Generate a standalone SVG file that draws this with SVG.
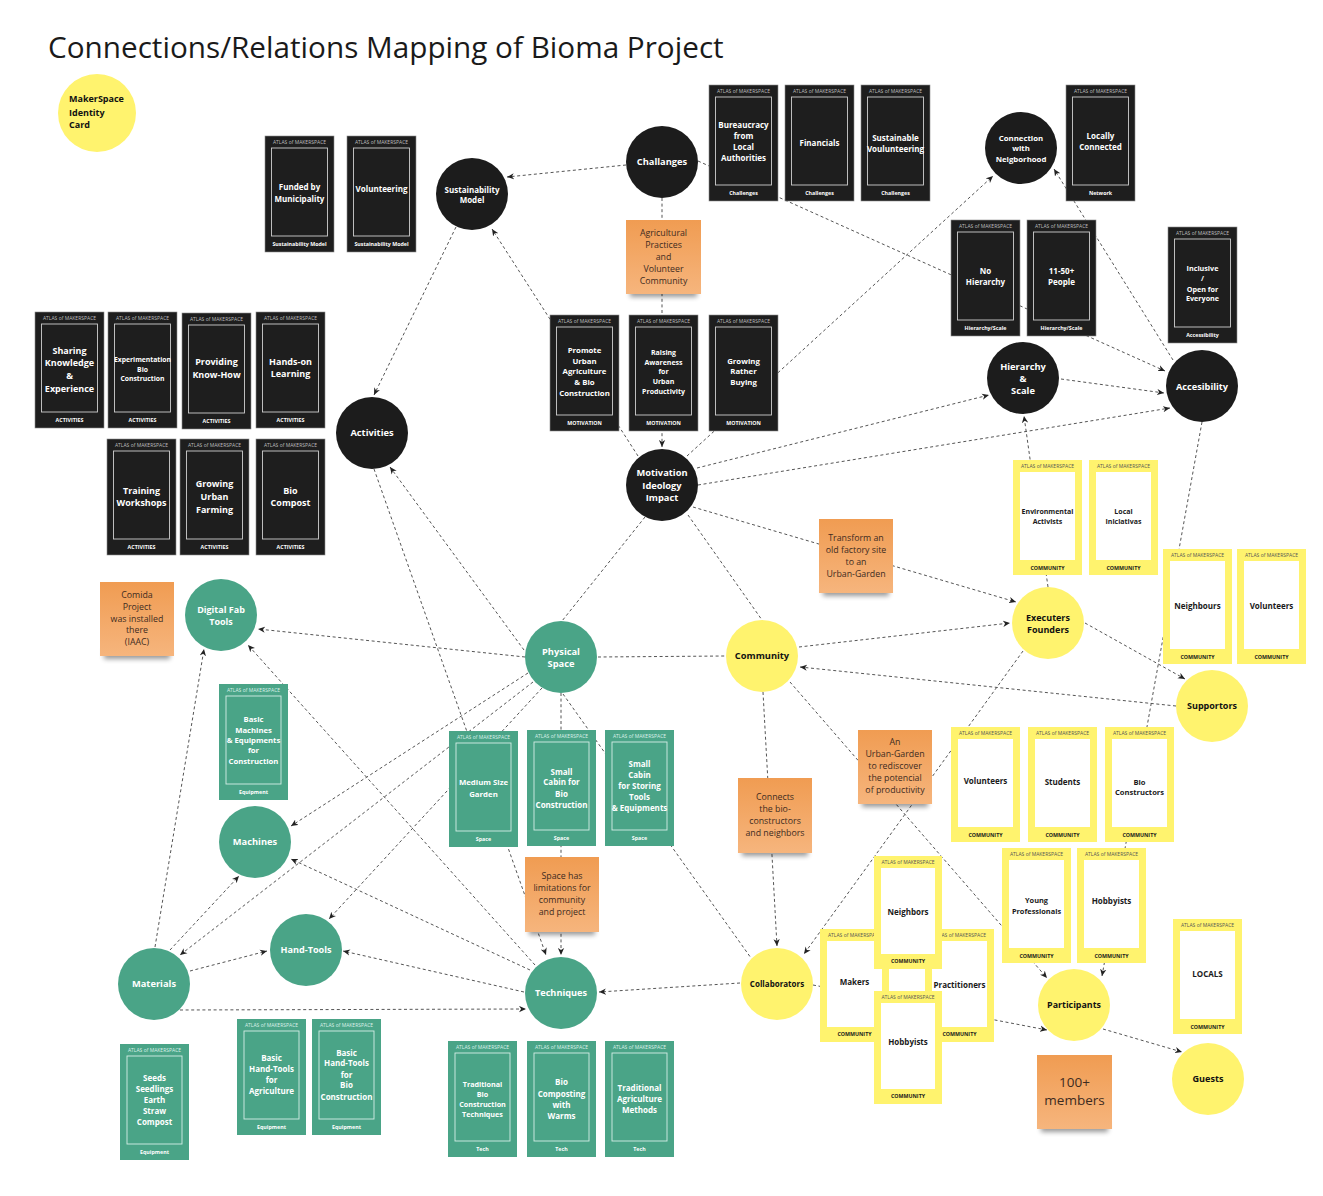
<svg xmlns="http://www.w3.org/2000/svg" width="1323" height="1196" viewBox="0 0 1323 1196">
<defs>
<style>
text{font-family:"Open Sans","Liberation Sans",sans-serif}
.cb .o{fill:#1e1e1e;stroke:#8c8c8c;stroke-width:.6}
.cb .i{fill:none;stroke:#cfcfcf;stroke-width:.9}
.cb text{fill:#fff}
.cb .hd{fill:#bdbdbd}
.cg .o{fill:#4aa487}
.cg .i{fill:none;stroke:#d6eee6;stroke-width:.9}
.cg text{fill:#fff}
.cg .hd{fill:#dcf1e9}
.cy .o{fill:#fff36e}
.cy .i{fill:#fff}
.cy text{fill:#1a1a1a}
.cy .hd{fill:#555}
.t{font-weight:700;text-anchor:middle}
.hd{font-size:5px;text-anchor:middle}
.ft{font-size:5.3px;font-weight:700;text-anchor:middle}
.nb{fill:#1c1c1c}
.ng{fill:#4aa487}
.ny{fill:#fff36e}
.lw{fill:#fff;font-weight:700;text-anchor:middle}
.lk{fill:#111;font-weight:700;text-anchor:middle}
.st{fill:url(#og)}
.sh{fill:#000;opacity:.4;filter:url(#bl)}
.nt{font-size:8.8px;fill:#3d2b1f;text-anchor:middle}
.nt.big{font-size:13.5px}
.cn line{stroke:#555;stroke-width:1;stroke-dasharray:3 2.6;fill:none}
.cn .a{marker-end:url(#arr)}
</style>
<linearGradient id="og" x1="0" y1="0" x2="0" y2="1">
<stop offset="0" stop-color="#f09c52"/>
<stop offset="1" stop-color="#f6b57d"/>
</linearGradient>
<filter id="bl" x="-20%" y="-100%" width="140%" height="300%"><feGaussianBlur stdDeviation="2.5"/></filter>
<marker id="arr" viewBox="0 0 10 10" refX="10" refY="5" markerWidth="7" markerHeight="7" orient="auto" markerUnits="userSpaceOnUse">
<path d="M0,0.5 L10,5 L0,9.5 L3,5 z" fill="#222"/>
</marker>
</defs>
<rect width="1323" height="1196" fill="#fff"/>
<text x="48" y="58" font-size="29.7" fill="#1a1a1a">Connections/Relations Mapping of Bioma Project</text>

<g id="connectors" class="cn">
<line class="a" x1="626" y1="165" x2="507" y2="177"/>
<line class="a" x1="698" y1="161" x2="1165" y2="371"/>
<line class="a" x1="662" y1="198" x2="662" y2="447"/>
<line class="a" x1="638" y1="456" x2="492" y2="229"/>
<line class="a" x1="456" y1="227" x2="374" y2="395"/>
<line class="a" x1="687" y1="456" x2="993" y2="176"/>
<line class="a" x1="1173" y1="360" x2="1054" y2="169"/>
<line class="a" x1="697" y1="468" x2="989" y2="395"/>
<line class="a" x1="698" y1="485" x2="1170" y2="408"/>
<line class="a" x1="1061" y1="379" x2="1164" y2="393"/>
<line class="a" x1="1048" y1="587" x2="1024" y2="416"/>
<line class="a" x1="1202" y1="422" x2="1102" y2="976"/>
<line class="a" x1="693" y1="507" x2="1016" y2="602"/>
<line x1="645" y1="517" x2="562" y2="621"/>
<line x1="688" y1="515" x2="762" y2="620"/>
<line x1="598" y1="657" x2="725" y2="656"/>
<line class="a" x1="799" y1="647" x2="1010" y2="623"/>
<line class="a" x1="1176" y1="706" x2="800" y2="667"/>
<line class="a" x1="1085" y1="623" x2="1185" y2="679"/>
<line class="a" x1="1023" y1="651" x2="804" y2="954"/>
<line class="a" x1="790" y1="682" x2="1047" y2="978"/>
<line class="a" x1="763" y1="692" x2="777" y2="946"/>
<line class="a" x1="740" y1="983" x2="599" y2="992"/>
<line class="a" x1="813" y1="985" x2="1047" y2="1030"/>
<line class="a" x1="1103" y1="1029" x2="1182" y2="1052"/>
<line x1="563" y1="694" x2="751" y2="958"/>
<line class="a" x1="561" y1="693" x2="561" y2="955"/>
<line class="a" x1="374" y1="469" x2="546" y2="955"/>
<line class="a" x1="524" y1="650" x2="390" y2="467"/>
<line class="a" x1="525" y1="657" x2="258" y2="629"/>
<line class="a" x1="535" y1="965" x2="248" y2="645"/>
<line class="a" x1="155" y1="947" x2="204" y2="649"/>
<line class="a" x1="170" y1="950" x2="239" y2="876"/>
<line class="a" x1="533" y1="682" x2="180" y2="955"/>
<line class="a" x1="528" y1="673" x2="291" y2="826"/>
<line class="a" x1="542" y1="688" x2="329" y2="919"/>
<line class="a" x1="530" y1="970" x2="291" y2="859"/>
<line class="a" x1="524" y1="992" x2="343" y2="951"/>
<line class="a" x1="190" y1="971" x2="267" y2="951"/>
<line class="a" x1="180" y1="1010" x2="526" y2="1009"/>
</g>

<!-- circles -->
<g id="n-identity"><circle class="ny" cx="97" cy="113" r="39"/><text font-size="9" font-weight="700" fill="#111"><tspan x="69" y="102">MakerSpace</tspan><tspan x="69" y="116">Identity</tspan><tspan x="69" y="128">Card</tspan></text></g>
<g id="n-sustainability"><circle class="nb" cx="472" cy="194" r="36"/><text class="lw" font-size="8"><tspan x="472" y="192.8">Sustainability</tspan><tspan x="472" y="202.8">Model</tspan></text></g>
<g id="n-challanges"><circle class="nb" cx="662" cy="162" r="36"/><text class="lw" font-size="9.3" x="662" y="165.3">Challanges</text></g>
<g id="n-connection"><circle class="nb" cx="1021" cy="148" r="36"/><text class="lw" font-size="7.8"><tspan x="1021" y="140.7">Connection</tspan><tspan x="1021" y="150.7">with</tspan><tspan x="1021" y="161.7">Neigborhood</tspan></text></g>
<g id="n-hierarchy"><circle class="nb" cx="1023" cy="378" r="36"/><text class="lw" font-size="9.3"><tspan x="1023" y="370.3">Hierarchy</tspan><tspan x="1023" y="382.3">&amp;</tspan><tspan x="1023" y="394.3">Scale</tspan></text></g>
<g id="n-accesibility"><circle class="nb" cx="1202" cy="386" r="36"/><text class="lw" font-size="9.2" x="1202" y="390.2">Accesibility</text></g>
<g id="n-activities"><circle class="nb" cx="372" cy="433" r="36"/><text class="lw" font-size="9.3" x="372" y="436.3">Activities</text></g>
<g id="n-motivation"><circle class="nb" cx="662" cy="485" r="36"/><text class="lw" font-size="9.3"><tspan x="662" y="476.3">Motivation</tspan><tspan x="662" y="489.3">Ideology</tspan><tspan x="662" y="501.3">Impact</tspan></text></g>
<g id="n-digitalfab"><circle class="ng" cx="221" cy="615" r="36"/><text class="lw" font-size="9"><tspan x="221" y="613.2">Digital Fab</tspan><tspan x="221" y="625.2">Tools</tspan></text></g>
<g id="n-physical"><circle class="ng" cx="561" cy="657" r="36"/><text class="lw" font-size="9.3"><tspan x="561" y="655.3">Physical</tspan><tspan x="561" y="667.3">Space</tspan></text></g>
<g id="n-machines"><circle class="ng" cx="255" cy="842" r="36"/><text class="lw" font-size="9.3" x="255" y="845.3">Machines</text></g>
<g id="n-handtools"><circle class="ng" cx="306" cy="950" r="36"/><text class="lw" font-size="9.1" x="306" y="953.2">Hand-Tools</text></g>
<g id="n-materials"><circle class="ng" cx="154" cy="984" r="36"/><text class="lw" font-size="9.3" x="154" y="987.3">Materials</text></g>
<g id="n-techniques"><circle class="ng" cx="561" cy="993" r="36"/><text class="lw" font-size="9.2" x="561" y="996.2">Techniques</text></g>
<g id="n-community"><circle class="ny" cx="762" cy="656" r="36"/><text class="lk" font-size="9.3" x="762" y="659.3">Community</text></g>
<g id="n-executers"><circle class="ny" cx="1048" cy="623" r="36"/><text class="lk" font-size="9"><tspan x="1048" y="621.2">Executers</tspan><tspan x="1048" y="633.2">Founders</tspan></text></g>
<g id="n-supportors"><circle class="ny" cx="1212" cy="706" r="36"/><text class="lk" font-size="9" x="1212" y="709.2">Supportors</text></g>
<g id="n-collaborators"><circle class="ny" cx="777" cy="984" r="36"/><text class="lk" font-size="8" x="777" y="986.8">Collaborators</text></g>
<g id="n-participants"><circle class="ny" cx="1074" cy="1005" r="36"/><text class="lk" font-size="8.9" x="1074" y="1008.1">Participants</text></g>
<g id="n-guests"><circle class="ny" cx="1208" cy="1079" r="36"/><text class="lk" font-size="9.1" x="1208" y="1082.2">Guests</text></g>

<!-- black cards -->
<g id="card-funded" class="cb" transform="translate(265,136)"><rect class="o" width="69" height="116"/><rect class="i" x="6.5" y="12" width="56" height="88"/><text class="hd" x="34.5" y="8">ATLAS of MAKERSPACE</text><text class="t" font-size="8"><tspan x="34.5" y="53.8">Funded by</tspan><tspan x="34.5" y="65.8">Municipality</tspan></text><text class="ft" x="34.5" y="110">Sustainability Model</text></g>
<g id="card-volunteering" class="cb" transform="translate(347,136)"><rect class="o" width="69" height="116"/><rect class="i" x="6.5" y="12" width="56" height="88"/><text class="hd" x="34.5" y="8">ATLAS of MAKERSPACE</text><text class="t" font-size="8" x="34.5" y="55.8">Volunteering</text><text class="ft" x="34.5" y="110">Sustainability Model</text></g>
<g id="card-bureaucracy" class="cb" transform="translate(709,85)"><rect class="o" width="69" height="116"/><rect class="i" x="6.5" y="12" width="56" height="88"/><text class="hd" x="34.5" y="8">ATLAS of MAKERSPACE</text><text class="t" font-size="8"><tspan x="34.5" y="42.8">Bureaucracy</tspan><tspan x="34.5" y="53.8">from</tspan><tspan x="34.5" y="64.8">Local</tspan><tspan x="34.5" y="75.8">Authorities</tspan></text><text class="ft" x="34.5" y="110">Challenges</text></g>
<g id="card-financials" class="cb" transform="translate(785,85)"><rect class="o" width="69" height="116"/><rect class="i" x="6.5" y="12" width="56" height="88"/><text class="hd" x="34.5" y="8">ATLAS of MAKERSPACE</text><text class="t" font-size="8" x="34.5" y="60.8">Financials</text><text class="ft" x="34.5" y="110">Challenges</text></g>
<g id="card-sustvol" class="cb" transform="translate(861,85)"><rect class="o" width="69" height="116"/><rect class="i" x="6.5" y="12" width="56" height="88"/><text class="hd" x="34.5" y="8">ATLAS of MAKERSPACE</text><text class="t" font-size="8"><tspan x="34.5" y="55.8">Sustainable</tspan><tspan x="34.5" y="66.8">Voulunteering</tspan></text><text class="ft" x="34.5" y="110">Challenges</text></g>
<g id="card-locally" class="cb" transform="translate(1066,85)"><rect class="o" width="69" height="116"/><rect class="i" x="6.5" y="12" width="56" height="88"/><text class="hd" x="34.5" y="8">ATLAS of MAKERSPACE</text><text class="t" font-size="8"><tspan x="34.5" y="53.8">Locally</tspan><tspan x="34.5" y="64.8">Connected</tspan></text><text class="ft" x="34.5" y="110">Network</text></g>
<g id="card-nohierarchy" class="cb" transform="translate(951,220)"><rect class="o" width="69" height="116"/><rect class="i" x="6.5" y="12" width="56" height="88"/><text class="hd" x="34.5" y="8">ATLAS of MAKERSPACE</text><text class="t" font-size="8"><tspan x="34.5" y="53.8">No</tspan><tspan x="34.5" y="64.8">Hierarchy</tspan></text><text class="ft" x="34.5" y="110">Hierarchy/Scale</text></g>
<g id="card-people" class="cb" transform="translate(1027,220)"><rect class="o" width="69" height="116"/><rect class="i" x="6.5" y="12" width="56" height="88"/><text class="hd" x="34.5" y="8">ATLAS of MAKERSPACE</text><text class="t" font-size="8"><tspan x="34.5" y="53.8">11-50+</tspan><tspan x="34.5" y="64.8">People</tspan></text><text class="ft" x="34.5" y="110">Hierarchy/Scale</text></g>
<g id="card-inclusive" class="cb" transform="translate(1168,227)"><rect class="o" width="69" height="116"/><rect class="i" x="6.5" y="12" width="56" height="88"/><text class="hd" x="34.5" y="8">ATLAS of MAKERSPACE</text><text class="t" font-size="7.2"><tspan x="34.5" y="43.5">Inclusive</tspan><tspan x="34.5" y="53.5">/</tspan><tspan x="34.5" y="64.5">Open for</tspan><tspan x="34.5" y="73.5">Everyone</tspan></text><text class="ft" x="34.5" y="110">Accessibility</text></g>
<g id="card-promote" class="cb" transform="translate(550,315)"><rect class="o" width="69" height="116"/><rect class="i" x="6.5" y="12" width="56" height="88"/><text class="hd" x="34.5" y="8">ATLAS of MAKERSPACE</text><text class="t" font-size="7.8"><tspan x="34.5" y="37.7">Promote</tspan><tspan x="34.5" y="48.7">Urban</tspan><tspan x="34.5" y="58.7">Agriculture</tspan><tspan x="34.5" y="69.7">&amp; Bio</tspan><tspan x="34.5" y="80.7">Construction</tspan></text><text class="ft" x="34.5" y="110">MOTIVATION</text></g>
<g id="card-raising" class="cb" transform="translate(629,315)"><rect class="o" width="69" height="116"/><rect class="i" x="6.5" y="12" width="56" height="88"/><text class="hd" x="34.5" y="8">ATLAS of MAKERSPACE</text><text class="t" font-size="7"><tspan x="34.5" y="39.5">Raising</tspan><tspan x="34.5" y="49.5">Awareness</tspan><tspan x="34.5" y="58.5">for</tspan><tspan x="34.5" y="68.5">Urban</tspan><tspan x="34.5" y="78.5">Productivity</tspan></text><text class="ft" x="34.5" y="110">MOTIVATION</text></g>
<g id="card-growingrb" class="cb" transform="translate(709,315)"><rect class="o" width="69" height="116"/><rect class="i" x="6.5" y="12" width="56" height="88"/><text class="hd" x="34.5" y="8">ATLAS of MAKERSPACE</text><text class="t" font-size="7.8"><tspan x="34.5" y="48.7">Growing</tspan><tspan x="34.5" y="58.7">Rather</tspan><tspan x="34.5" y="69.7">Buying</tspan></text><text class="ft" x="34.5" y="110">MOTIVATION</text></g>
<g id="card-sharing" class="cb" transform="translate(35,312)"><rect class="o" width="69" height="116"/><rect class="i" x="6.5" y="12" width="56" height="88"/><text class="hd" x="34.5" y="8">ATLAS of MAKERSPACE</text><text class="t" font-size="9"><tspan x="34.5" y="42.2">Sharing</tspan><tspan x="34.5" y="54.2">Knowledge</tspan><tspan x="34.5" y="67.2">&amp;</tspan><tspan x="34.5" y="80.2">Experience</tspan></text><text class="ft" x="34.5" y="110">ACTIVITIES</text></g>
<g id="card-experimentation" class="cb" transform="translate(108,312)"><rect class="o" width="69" height="116"/><rect class="i" x="6.5" y="12" width="56" height="88"/><text class="hd" x="34.5" y="8">ATLAS of MAKERSPACE</text><text class="t" font-size="6.8"><tspan x="34.5" y="50.4">Experimentation</tspan><tspan x="34.5" y="60.4">Bio</tspan><tspan x="34.5" y="69.4">Construction</tspan></text><text class="ft" x="34.5" y="110">ACTIVITIES</text></g>
<g id="card-providing" class="cb" transform="translate(182,313)"><rect class="o" width="69" height="116"/><rect class="i" x="6.5" y="12" width="56" height="88"/><text class="hd" x="34.5" y="8">ATLAS of MAKERSPACE</text><text class="t" font-size="9"><tspan x="34.5" y="52.2">Providing</tspan><tspan x="34.5" y="65.2">Know-How</tspan></text><text class="ft" x="34.5" y="110">ACTIVITIES</text></g>
<g id="card-handson" class="cb" transform="translate(256,312)"><rect class="o" width="69" height="116"/><rect class="i" x="6.5" y="12" width="56" height="88"/><text class="hd" x="34.5" y="8">ATLAS of MAKERSPACE</text><text class="t" font-size="9"><tspan x="34.5" y="53.2">Hands-on</tspan><tspan x="34.5" y="65.2">Learning</tspan></text><text class="ft" x="34.5" y="110">ACTIVITIES</text></g>
<g id="card-training" class="cb" transform="translate(107,439)"><rect class="o" width="69" height="116"/><rect class="i" x="6.5" y="12" width="56" height="88"/><text class="hd" x="34.5" y="8">ATLAS of MAKERSPACE</text><text class="t" font-size="9"><tspan x="34.5" y="55.2">Training</tspan><tspan x="34.5" y="67.2">Workshops</tspan></text><text class="ft" x="34.5" y="110">ACTIVITIES</text></g>
<g id="card-growinguf" class="cb" transform="translate(180,439)"><rect class="o" width="69" height="116"/><rect class="i" x="6.5" y="12" width="56" height="88"/><text class="hd" x="34.5" y="8">ATLAS of MAKERSPACE</text><text class="t" font-size="9"><tspan x="34.5" y="48.2">Growing</tspan><tspan x="34.5" y="61.2">Urban</tspan><tspan x="34.5" y="74.2">Farming</tspan></text><text class="ft" x="34.5" y="110">ACTIVITIES</text></g>
<g id="card-biocompost" class="cb" transform="translate(256,439)"><rect class="o" width="69" height="116"/><rect class="i" x="6.5" y="12" width="56" height="88"/><text class="hd" x="34.5" y="8">ATLAS of MAKERSPACE</text><text class="t" font-size="9"><tspan x="34.5" y="55.2">Bio</tspan><tspan x="34.5" y="67.2">Compost</tspan></text><text class="ft" x="34.5" y="110">ACTIVITIES</text></g>

<!-- green cards -->
<g id="card-basicmachines" class="cg" transform="translate(219,684)"><rect class="o" width="69" height="116"/><rect class="i" x="7" y="12" width="55" height="88"/><text class="hd" x="34.5" y="8">ATLAS of MAKERSPACE</text><text class="t" font-size="7.7"><tspan x="34.5" y="37.7">Basic</tspan><tspan x="34.5" y="48.7">Machines</tspan><tspan x="34.5" y="58.7">&amp; Equipments</tspan><tspan x="34.5" y="68.7">for</tspan><tspan x="34.5" y="79.7">Construction</tspan></text><text class="ft" x="34.5" y="110">Equipment</text></g>
<g id="card-mediumgarden" class="cg" transform="translate(449,731)"><rect class="o" width="69" height="116"/><rect class="i" x="7" y="12" width="55" height="88"/><text class="hd" x="34.5" y="8">ATLAS of MAKERSPACE</text><text class="t" font-size="7.8"><tspan x="34.5" y="53.7">Medium Size</tspan><tspan x="34.5" y="65.7">Garden</tspan></text><text class="ft" x="34.5" y="110">Space</text></g>
<g id="card-cabinbio" class="cg" transform="translate(527,730)"><rect class="o" width="69" height="116"/><rect class="i" x="7" y="12" width="55" height="88"/><text class="hd" x="34.5" y="8">ATLAS of MAKERSPACE</text><text class="t" font-size="8"><tspan x="34.5" y="44.8">Small</tspan><tspan x="34.5" y="54.8">Cabin for</tspan><tspan x="34.5" y="66.8">Bio</tspan><tspan x="34.5" y="77.8">Construction</tspan></text><text class="ft" x="34.5" y="110">Space</text></g>
<g id="card-cabinstore" class="cg" transform="translate(605,730)"><rect class="o" width="69" height="116"/><rect class="i" x="7" y="12" width="55" height="88"/><text class="hd" x="34.5" y="8">ATLAS of MAKERSPACE</text><text class="t" font-size="8"><tspan x="34.5" y="36.8">Small</tspan><tspan x="34.5" y="47.8">Cabin</tspan><tspan x="34.5" y="58.8">for Storing</tspan><tspan x="34.5" y="69.8">Tools</tspan><tspan x="34.5" y="80.8">&amp; Equipments</tspan></text><text class="ft" x="34.5" y="110">Space</text></g>
<g id="card-seeds" class="cg" transform="translate(120,1044)"><rect class="o" width="69" height="116"/><rect class="i" x="7" y="12" width="55" height="88"/><text class="hd" x="34.5" y="8">ATLAS of MAKERSPACE</text><text class="t" font-size="8"><tspan x="34.5" y="36.8">Seeds</tspan><tspan x="34.5" y="47.8">Seedlings</tspan><tspan x="34.5" y="58.8">Earth</tspan><tspan x="34.5" y="69.8">Straw</tspan><tspan x="34.5" y="80.8">Compost</tspan></text><text class="ft" x="34.5" y="110">Equipment</text></g>
<g id="card-bhtagri" class="cg" transform="translate(237,1019)"><rect class="o" width="69" height="116"/><rect class="i" x="7" y="12" width="55" height="88"/><text class="hd" x="34.5" y="8">ATLAS of MAKERSPACE</text><text class="t" font-size="8"><tspan x="34.5" y="41.8">Basic</tspan><tspan x="34.5" y="52.8">Hand-Tools</tspan><tspan x="34.5" y="63.8">for</tspan><tspan x="34.5" y="74.8">Agriculture</tspan></text><text class="ft" x="34.5" y="110">Equipment</text></g>
<g id="card-bhtbio" class="cg" transform="translate(312,1019)"><rect class="o" width="69" height="116"/><rect class="i" x="7" y="12" width="55" height="88"/><text class="hd" x="34.5" y="8">ATLAS of MAKERSPACE</text><text class="t" font-size="8"><tspan x="34.5" y="36.8">Basic</tspan><tspan x="34.5" y="46.8">Hand-Tools</tspan><tspan x="34.5" y="58.8">for</tspan><tspan x="34.5" y="68.8">Bio</tspan><tspan x="34.5" y="80.8">Construction</tspan></text><text class="ft" x="34.5" y="110">Equipment</text></g>
<g id="card-tradbio" class="cg" transform="translate(448,1041)"><rect class="o" width="69" height="116"/><rect class="i" x="7" y="12" width="55" height="88"/><text class="hd" x="34.5" y="8">ATLAS of MAKERSPACE</text><text class="t" font-size="7.2"><tspan x="34.5" y="45.5">Traditional</tspan><tspan x="34.5" y="55.5">Bio</tspan><tspan x="34.5" y="65.5">Construction</tspan><tspan x="34.5" y="75.5">Techniques</tspan></text><text class="ft" x="34.5" y="110">Tech</text></g>
<g id="card-biocomposting" class="cg" transform="translate(527,1041)"><rect class="o" width="69" height="116"/><rect class="i" x="7" y="12" width="55" height="88"/><text class="hd" x="34.5" y="8">ATLAS of MAKERSPACE</text><text class="t" font-size="8"><tspan x="34.5" y="43.8">Bio</tspan><tspan x="34.5" y="55.8">Composting</tspan><tspan x="34.5" y="66.8">with</tspan><tspan x="34.5" y="77.8">Warms</tspan></text><text class="ft" x="34.5" y="110">Tech</text></g>
<g id="card-tradagri" class="cg" transform="translate(605,1041)"><rect class="o" width="69" height="116"/><rect class="i" x="7" y="12" width="55" height="88"/><text class="hd" x="34.5" y="8">ATLAS of MAKERSPACE</text><text class="t" font-size="8"><tspan x="34.5" y="49.8">Traditional</tspan><tspan x="34.5" y="60.8">Agriculture</tspan><tspan x="34.5" y="71.8">Methods</tspan></text><text class="ft" x="34.5" y="110">Tech</text></g>

<!-- yellow cards -->
<g id="card-envact" class="cy" transform="translate(1013,460)"><rect class="o" width="69" height="115"/><rect class="i" x="7" y="12" width="55" height="88"/><text class="hd" x="34.5" y="8">ATLAS of MAKERSPACE</text><text class="t" font-size="7"><tspan x="34.5" y="53.5">Environmental</tspan><tspan x="34.5" y="63.5">Activists</tspan></text><text class="ft" x="34.5" y="109.5">COMMUNITY</text></g>
<g id="card-localinic" class="cy" transform="translate(1089,460)"><rect class="o" width="69" height="115"/><rect class="i" x="7" y="12" width="55" height="88"/><text class="hd" x="34.5" y="8">ATLAS of MAKERSPACE</text><text class="t" font-size="7"><tspan x="34.5" y="53.5">Local</tspan><tspan x="34.5" y="63.5">Iniciativas</tspan></text><text class="ft" x="34.5" y="109.5">COMMUNITY</text></g>
<g id="card-neighbours" class="cy" transform="translate(1163,549)"><rect class="o" width="69" height="115"/><rect class="i" x="7" y="12" width="55" height="88"/><text class="hd" x="34.5" y="8">ATLAS of MAKERSPACE</text><text class="t" font-size="8" x="34.5" y="59.8">Neighbours</text><text class="ft" x="34.5" y="109.5">COMMUNITY</text></g>
<g id="card-volunteers-r" class="cy" transform="translate(1237,549)"><rect class="o" width="69" height="115"/><rect class="i" x="7" y="12" width="55" height="88"/><text class="hd" x="34.5" y="8">ATLAS of MAKERSPACE</text><text class="t" font-size="8" x="34.5" y="59.8">Volunteers</text><text class="ft" x="34.5" y="109.5">COMMUNITY</text></g>
<g id="card-volunteers-m" class="cy" transform="translate(951,727)"><rect class="o" width="69" height="115"/><rect class="i" x="7" y="12" width="55" height="88"/><text class="hd" x="34.5" y="8">ATLAS of MAKERSPACE</text><text class="t" font-size="8" x="34.5" y="56.8">Volunteers</text><text class="ft" x="34.5" y="109.5">COMMUNITY</text></g>
<g id="card-students" class="cy" transform="translate(1028,727)"><rect class="o" width="69" height="115"/><rect class="i" x="7" y="12" width="55" height="88"/><text class="hd" x="34.5" y="8">ATLAS of MAKERSPACE</text><text class="t" font-size="8" x="34.5" y="57.8">Students</text><text class="ft" x="34.5" y="109.5">COMMUNITY</text></g>
<g id="card-bioconst" class="cy" transform="translate(1105,727)"><rect class="o" width="69" height="115"/><rect class="i" x="7" y="12" width="55" height="88"/><text class="hd" x="34.5" y="8">ATLAS of MAKERSPACE</text><text class="t" font-size="7.6"><tspan x="34.5" y="57.7">Bio</tspan><tspan x="34.5" y="67.7">Constructors</tspan></text><text class="ft" x="34.5" y="109.5">COMMUNITY</text></g>
<g id="card-youngprof" class="cy" transform="translate(1002,848)"><rect class="o" width="69" height="115"/><rect class="i" x="7" y="12" width="55" height="88"/><text class="hd" x="34.5" y="8">ATLAS of MAKERSPACE</text><text class="t" font-size="7.4"><tspan x="34.5" y="54.6">Young</tspan><tspan x="34.5" y="65.6">Professionals</tspan></text><text class="ft" x="34.5" y="109.5">COMMUNITY</text></g>
<g id="card-hobbyists-r" class="cy" transform="translate(1077,848)"><rect class="o" width="69" height="115"/><rect class="i" x="7" y="12" width="55" height="88"/><text class="hd" x="34.5" y="8">ATLAS of MAKERSPACE</text><text class="t" font-size="8" x="34.5" y="55.8">Hobbyists</text><text class="ft" x="34.5" y="109.5">COMMUNITY</text></g>
<g id="card-makers" class="cy" transform="translate(820,929)"><rect class="o" width="69" height="113"/><rect class="i" x="7" y="12" width="55" height="86"/><text class="hd" x="34.5" y="8">ATLAS of MAKERSPACE</text><text class="t" font-size="8" x="34.5" y="55.8">Makers</text><text class="ft" x="34.5" y="107">COMMUNITY</text></g>
<g id="card-practitioners" class="cy" transform="translate(925,929)"><rect class="o" width="69" height="113"/><rect class="i" x="7" y="12" width="55" height="86"/><text class="hd" x="34.5" y="8">ATLAS of MAKERSPACE</text><text class="t" font-size="8" x="34.5" y="58.8">Practitioners</text><text class="ft" x="34.5" y="107">COMMUNITY</text></g>
<g id="card-neighbors" class="cy" transform="translate(874,856)"><rect class="o" width="68" height="113"/><rect class="i" x="7" y="12" width="54" height="86"/><text class="hd" x="34" y="8">ATLAS of MAKERSPACE</text><text class="t" font-size="8" x="34" y="58.8">Neighbors</text><text class="ft" x="34" y="107">COMMUNITY</text></g>
<g id="card-hobbyists-l" class="cy" transform="translate(874,991)"><rect class="o" width="68" height="113"/><rect class="i" x="7" y="12" width="54" height="86"/><text class="hd" x="34" y="8">ATLAS of MAKERSPACE</text><text class="t" font-size="8" x="34" y="53.8">Hobbyists</text><text class="ft" x="34" y="107">COMMUNITY</text></g>
<g id="card-locals" class="cy" transform="translate(1173,919)"><rect class="o" width="69" height="115"/><rect class="i" x="7" y="12" width="55" height="88"/><text class="hd" x="34.5" y="8">ATLAS of MAKERSPACE</text><text class="t" font-size="8" x="34.5" y="57.8">LOCALS</text><text class="ft" x="34.5" y="109.5">COMMUNITY</text></g>

<!-- sticky notes -->
<g id="note-agri"><rect class="sh" x="630" y="287" width="67" height="10"/><rect class="st" x="626" y="220" width="75" height="74"/><text class="nt"><tspan x="663.5" y="236.1">Agricultural</tspan><tspan x="663.5" y="248.1">Practices</tspan><tspan x="663.5" y="260.1">and</tspan><tspan x="663.5" y="272.1">Volunteer</tspan><tspan x="663.5" y="284.1">Community</tspan></text></g>
<g id="note-comida"><rect class="sh" x="104" y="649" width="66" height="10"/><rect class="st" x="100" y="582" width="74" height="74"/><text class="nt"><tspan x="137" y="598.1">Comida</tspan><tspan x="137" y="610.1">Project</tspan><tspan x="137" y="622.1">was installed</tspan><tspan x="137" y="633.1">there</tspan><tspan x="137" y="645.1">(IAAC)</tspan></text></g>
<g id="note-transform"><rect class="sh" x="823" y="586" width="66" height="10"/><rect class="st" x="819" y="519" width="74" height="74"/><text class="nt"><tspan x="856" y="541.1">Transform an</tspan><tspan x="856" y="553.1">old factory site</tspan><tspan x="856" y="565.1">to an</tspan><tspan x="856" y="577.1">Urban-Garden</tspan></text></g>
<g id="note-spacelim"><rect class="sh" x="529" y="925" width="66" height="10"/><rect class="st" x="525" y="857" width="74" height="75"/><text class="nt"><tspan x="562" y="879.1">Space has</tspan><tspan x="562" y="891.1">limitations for</tspan><tspan x="562" y="903.1">community</tspan><tspan x="562" y="915.1">and project</tspan></text></g>
<g id="note-connects"><rect class="sh" x="742" y="846" width="66" height="10"/><rect class="st" x="738" y="778" width="74" height="75"/><text class="nt"><tspan x="775" y="800.1">Connects</tspan><tspan x="775" y="812.1">the bio-</tspan><tspan x="775" y="824.1">constructors</tspan><tspan x="775" y="836.1">and neighbors</tspan></text></g>
<g id="note-anurban"><rect class="sh" x="862" y="797" width="66" height="10"/><rect class="st" x="858" y="730" width="74" height="74"/><text class="nt"><tspan x="895" y="745.1">An</tspan><tspan x="895" y="757.1">Urban-Garden</tspan><tspan x="895" y="769.1">to rediscover</tspan><tspan x="895" y="781.1">the potencial</tspan><tspan x="895" y="793.1">of productivity</tspan></text></g>
<g id="note-members"><rect class="sh" x="1041" y="1122" width="67" height="10"/><rect class="st" x="1037" y="1055" width="75" height="74"/><text class="nt big"><tspan x="1074.5" y="1086.7">100+</tspan><tspan x="1074.5" y="1104.7">members</tspan></text></g>
</svg>
